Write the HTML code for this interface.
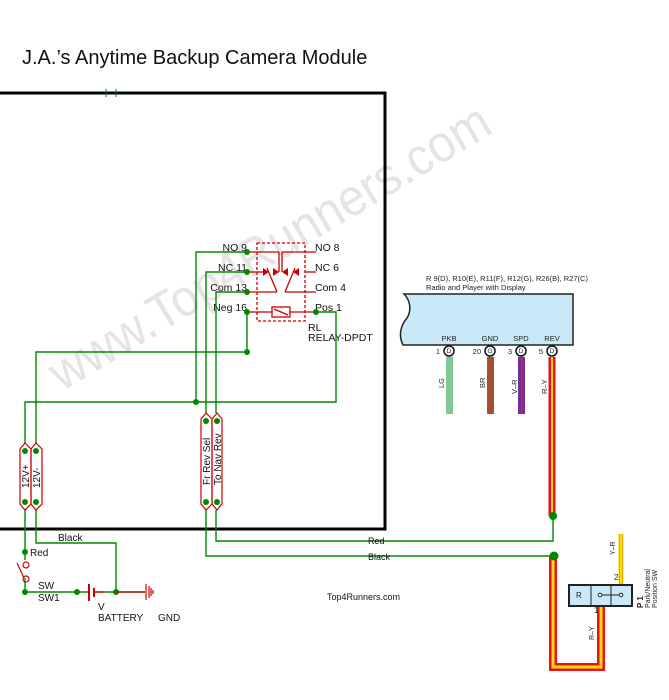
<!DOCTYPE html>
<html><head><meta charset="utf-8"><style>
html,body{margin:0;padding:0;background:#fff;}
svg{display:block;font-family:"Liberation Sans",Arial,sans-serif;}
</style></head><body>
<svg width="669" height="700" viewBox="0 0 669 700" xmlns="http://www.w3.org/2000/svg">
<rect width="669" height="700" fill="#fff"/>
<!-- watermark -->
<text x="0" y="0" transform="translate(62,392) rotate(-31)" font-size="52" fill="#e4e4e4" textLength="505" lengthAdjust="spacingAndGlyphs">www.Top4Runners.com</text>

<text x="22" y="64" font-size="20" fill="#111">J.A.’s Anytime Backup Camera Module</text>

<!-- big box -->
<polyline points="-5,93 385,93 385,529 -5,529" fill="none" stroke="#000" stroke-width="3"/>
<line x1="106" y1="89" x2="106" y2="97" stroke="#080" stroke-width="1"/>
<line x1="116" y1="89" x2="116" y2="97" stroke="#080" stroke-width="1"/>

<!-- relay -->
<g stroke="#c00" stroke-width="1.3" fill="none">
<rect x="257" y="243" width="48" height="78" stroke-dasharray="3,2"/>
<line x1="247" y1="252" x2="279" y2="252"/><line x1="279" y1="252" x2="279" y2="272"/>
<line x1="316" y1="252" x2="282" y2="252"/><line x1="282" y1="252" x2="282" y2="272"/>
<line x1="247" y1="272" x2="263" y2="272"/><line x1="305" y1="272" x2="316" y2="272"/>
<line x1="247" y1="292" x2="277" y2="292"/><line x1="277" y1="292" x2="267" y2="268"/>
<line x1="316" y1="292" x2="285" y2="292"/><line x1="285" y1="292" x2="295" y2="268"/>
<line x1="247" y1="312" x2="272" y2="312"/><line x1="290" y1="312" x2="316" y2="312"/>
<rect x="272" y="307" width="18" height="10"/><line x1="274" y1="309" x2="288" y2="315"/>
</g>
<g fill="#c00">
<polygon points="263,268 263,276 269,272"/><polygon points="279,272 273,268 273,276"/>
<polygon points="282,272 288,268 288,276"/><polygon points="299,268 299,276 293,272"/>
</g>
<g font-size="10.5" fill="#111">
<text x="247" y="251" text-anchor="end">NO 9</text>
<text x="247" y="271" text-anchor="end">NC 11</text>
<text x="247" y="291" text-anchor="end">Com 13</text>
<text x="247" y="311" text-anchor="end">Neg 16</text>
<text x="315" y="251">NO 8</text>
<text x="315" y="271">NC 6</text>
<text x="315" y="291">Com 4</text>
<text x="315" y="311">Pos 1</text>
<text x="308" y="331">RL</text>
<text x="308" y="341">RELAY-DPDT</text>
</g>

<!-- green wires -->
<g stroke="#080" stroke-width="1.4" fill="none">
<polyline points="247,252 196,252 196,402"/>
<polyline points="247,272 206,272 206,413"/>
<polyline points="247,292 216,292 216,413"/>
<polyline points="247,312 247,352 36,352 36,443"/>
<polyline points="316,312 336,312 336,402 25,402 25,443"/>
<polyline points="36,510 36,543 116,543 116,592"/>
<polyline points="25,510 25,560"/>
<polyline points="25,578 25,592 88,592"/>
<polyline points="95,592 145,592" />
<polyline points="206,510 206,556 553,556"/>
<polyline points="216,510 216,541 553,541 553,516"/>
</g>
<!-- connectors -->
<g stroke="#c00" stroke-width="1.2" fill="none">
<polygon points="20,449 25,443 31,449 31,504 25,510 20,504"/>
<polygon points="31,449 36,443 42,449 42,504 36,510 31,504"/>
<polygon points="201,419 206,413 212,419 212,504 206,510 201,504"/>
<polygon points="212,419 217,413 222,419 222,504 217,510 212,504"/>
</g>
<g font-size="10" fill="#111">
<text transform="translate(29,488) rotate(-90)">12V+</text>
<text transform="translate(40,488) rotate(-90)">12V-</text>
<text transform="translate(210,485) rotate(-90)">Fr Rev Sel</text>
<text transform="translate(221,485) rotate(-90)">To Nav Rev</text>
</g>
<g fill="#080">
<circle cx="247" cy="252" r="3"/><circle cx="247" cy="272" r="3"/><circle cx="247" cy="292" r="3"/><circle cx="247" cy="312" r="3"/>
<circle cx="316" cy="312" r="3"/><circle cx="247" cy="352" r="3"/><circle cx="196" cy="402" r="3"/>
<circle cx="25" cy="451" r="3"/><circle cx="36" cy="451" r="3"/><circle cx="25" cy="502" r="3"/><circle cx="36" cy="502" r="3"/>
<circle cx="206" cy="421" r="3"/><circle cx="217" cy="421" r="3"/><circle cx="206" cy="502" r="3"/><circle cx="217" cy="502" r="3"/>
<circle cx="25" cy="552" r="3"/><circle cx="25" cy="592" r="3"/><circle cx="77" cy="592" r="3"/><circle cx="116" cy="592" r="3"/>
</g>
<!-- switch, battery, ground -->
<g stroke="#c00" stroke-width="1.2" fill="none">
<circle cx="26" cy="565" r="3"/><circle cx="26" cy="579" r="3"/><line x1="24" y1="578" x2="17" y2="563"/>
<line x1="89" y1="584" x2="89" y2="601" stroke-width="2"/><line x1="94" y1="588" x2="94" y2="597" stroke-width="2"/>
<line x1="94" y1="592" x2="105" y2="592"/>
<line x1="116" y1="592" x2="145" y2="592"/>
<line x1="146" y1="584" x2="146" y2="600"/><line x1="149" y1="586" x2="149" y2="598"/><line x1="151" y1="588" x2="151" y2="596"/><line x1="153" y1="590" x2="153" y2="594"/>
</g>
<g font-size="10" fill="#111">
<text x="30" y="556">Red</text>
<text x="58" y="541">Black</text>
<text x="38" y="589">SW</text>
<text x="38" y="601">SW1</text>
<text x="98" y="610">V</text>
<text x="98" y="621">BATTERY</text>
<text x="158" y="621">GND</text>
<text x="368" y="544" font-size="9">Red</text>
<text x="368" y="560" font-size="9">Black</text>
<text x="327" y="600" font-size="9">Top4Runners.com</text>
</g>

<!-- radio -->
<text x="426" y="281" font-size="7.5" fill="#222">R 9(D), R10(E), R11(F), R12(G), R26(B), R27(C)</text>
<text x="426" y="290" font-size="7.5" fill="#222">Radio and Player with Display</text>
<path d="M404,294 L573,294 L573,345 L403,345 C398,335 401,325 407,318 C412,310 410,300 404,294 Z" fill="#c9e8f8" stroke="#222" stroke-width="1.5"/>
<g font-size="7.5" fill="#222" text-anchor="middle">
<text x="449" y="341">PKB</text><text x="490" y="341">GND</text><text x="521" y="341">SPD</text><text x="552" y="341">REV</text>
<text x="440" y="354" text-anchor="end">1</text><text x="481" y="354" text-anchor="end">20</text><text x="512" y="354" text-anchor="end">3</text><text x="543" y="354" text-anchor="end">5</text>
</g>
<rect x="446" y="357" width="7" height="57" fill="#80c898"/>
<rect x="487" y="357" width="7" height="57" fill="#a4522e"/>
<rect x="518" y="357" width="7" height="57" fill="#7030a0"/><rect x="521" y="357" width="1.5" height="57" fill="#e02040"/>
<g fill="#fff" stroke="#111" stroke-width="1.5">
<circle cx="449" cy="351" r="5"/><circle cx="490" cy="351" r="5"/><circle cx="521" cy="351" r="5"/><circle cx="552" cy="351" r="5"/>
</g>
<g font-size="6.5" fill="#222" text-anchor="middle">
<text x="449" y="353">D</text><text x="490" y="353">G</text><text x="521" y="353">D</text><text x="552" y="353">D</text>
</g>
<g font-size="7.5" fill="#222">
<text transform="translate(444,388) rotate(-90)">LG</text>
<text transform="translate(485,388) rotate(-90)">BR</text>
<text transform="translate(517,394) rotate(-90)">V–R</text>
<text transform="translate(547,394) rotate(-90)">R–Y</text>
</g>
<!-- R-Y wire -->
<polyline points="552,357 552,516" stroke="#e8101a" stroke-width="7" fill="none"/>
<polyline points="552,357 552,516" stroke="#f8e000" stroke-width="2" fill="none"/>
<polyline points="553,556 553,667 601,667 601,606" stroke="#e8101a" stroke-width="8" fill="none"/>
<polyline points="553,556 553,667 601,667 601,606" stroke="#f8e000" stroke-width="3" fill="none"/>
<polyline points="621,534 621,584" stroke="#f8e000" stroke-width="5" fill="none"/>
<line x1="619.5" y1="534" x2="619.5" y2="584" stroke="#d4a000" stroke-width="0.8"/>
<line x1="622.5" y1="534" x2="622.5" y2="584" stroke="#d4a000" stroke-width="0.8"/>
<circle cx="553" cy="516" r="4" fill="#080"/><circle cx="554" cy="556" r="4.5" fill="#080"/>
<!-- switch box -->
<rect x="569" y="585" width="63" height="21" fill="#c9e8f8" stroke="#222" stroke-width="2"/>
<line x1="591" y1="585" x2="591" y2="606" stroke="#222"/><line x1="611" y1="585" x2="611" y2="606" stroke="#222"/>
<line x1="600" y1="595" x2="621" y2="595" stroke="#222"/>
<circle cx="600" cy="595" r="1.8" fill="#fff" stroke="#222"/><circle cx="621" cy="595" r="1.8" fill="#fff" stroke="#222"/>
<g font-size="8" fill="#222">
<text x="576" y="598">R</text>
<text x="614" y="580">2</text><text x="594" y="613">1</text>
<text transform="translate(615,555) rotate(-90)" font-size="7">Y–R</text>
<text transform="translate(594,640) rotate(-90)" font-size="7">R–Y</text>
<text transform="translate(643,608) rotate(-90)" font-weight="bold">P 1</text>
<text transform="translate(650,608) rotate(-90)" font-size="7">Park/Neutral</text>
<text transform="translate(657,608) rotate(-90)" font-size="7">Position SW</text>
</g>
</svg>
</body></html>
